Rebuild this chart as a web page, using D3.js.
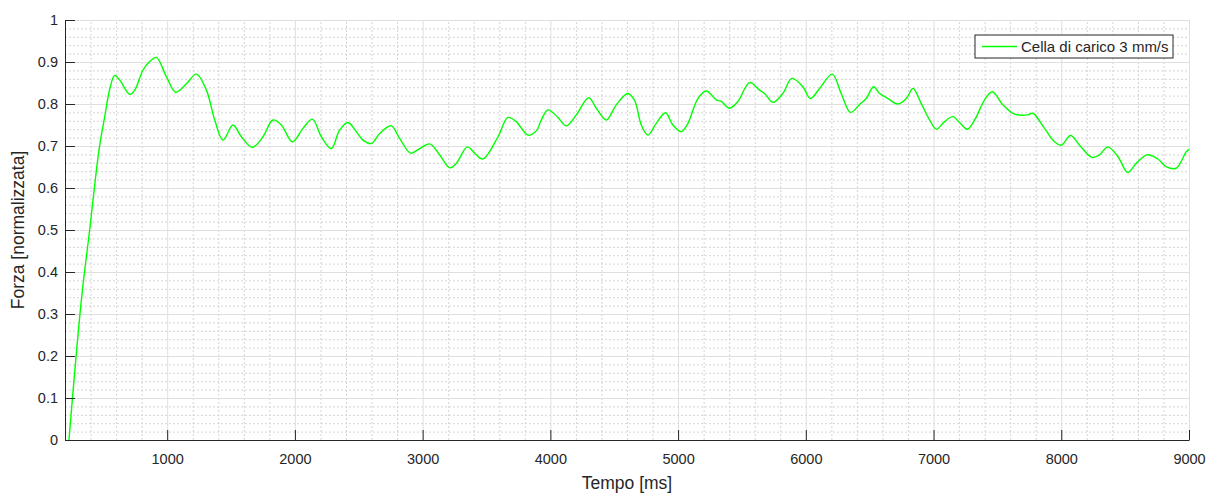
<!DOCTYPE html>
<html>
<head>
<meta charset="utf-8">
<script src="https://cdn.jsdelivr.net/npm/d3@7"></script>
<style>
	body { margin: 0; background: #fff; }
	text { font-family: "Liberation Sans", Arial, sans-serif; fill: #262626; }
</style>
</head>
<body>
<svg id="chart"></svg>
<script>
var width = 1207;
var height = 493;
var margin = { top: 20, right: 18, bottom: 53, left: 65 };

// values ----------------------------------------------------------------
var tempo = [231, 328, 393, 466, 511, 550, 589, 628, 707, 746, 811, 863, 915, 994, 1067, 1150,
	1229, 1307, 1372, 1437, 1515, 1581, 1667, 1750, 1828, 1894, 1980, 2063, 2137, 2207, 2285,
	2350, 2415, 2481, 2533, 2598, 2664, 2755, 2820, 2906, 2977, 3055, 3133, 3211, 3264, 3350,
	3407, 3472, 3590, 3668, 3733, 3824, 3890, 3929, 3981, 4059, 4125, 4203, 4300, 4360, 4438,
	4516, 4607, 4660, 4712, 4764, 4829, 4902, 4959, 5025, 5077, 5155, 5221, 5299, 5338, 5403,
	5468, 5560, 5638, 5677, 5742, 5820, 5891, 5977, 6035, 6108, 6207, 6277, 6350, 6421, 6473,
	6531, 6578, 6643, 6721, 6787, 6839, 6904, 6969, 7022, 7087, 7151, 7204, 7264, 7322, 7400,
	7460, 7543, 7634, 7738, 7777, 7869, 7947, 8000, 8073, 8143, 8240, 8300, 8365, 8443, 8521,
	8587, 8673, 8756, 8821, 8899, 8978, 9000];
var forza = [0, 0.333, 0.5, 0.69, 0.77, 0.835, 0.868, 0.857, 0.823, 0.833, 0.881, 0.901, 0.911, 0.865, 0.828, 0.848,
	0.871, 0.833, 0.762, 0.714, 0.75, 0.722, 0.697, 0.722, 0.762, 0.75, 0.71, 0.742, 0.764, 0.722, 0.694,
	0.738, 0.756, 0.734, 0.714, 0.706, 0.73, 0.748, 0.718, 0.683, 0.694, 0.705, 0.679, 0.648, 0.659, 0.698,
	0.683, 0.669, 0.722, 0.768, 0.758, 0.726, 0.736, 0.762, 0.786, 0.768, 0.748, 0.774, 0.815, 0.79, 0.762,
	0.798, 0.825, 0.808, 0.75, 0.726, 0.754, 0.779, 0.75, 0.734, 0.754, 0.813, 0.831, 0.81, 0.806, 0.79,
	0.806, 0.851, 0.833, 0.825, 0.804, 0.825, 0.861, 0.841, 0.813, 0.837, 0.871, 0.825, 0.78, 0.799, 0.813,
	0.841, 0.825, 0.813, 0.8, 0.813, 0.837, 0.801, 0.762, 0.74, 0.758, 0.77, 0.756, 0.74, 0.762, 0.81,
	0.829, 0.798, 0.776, 0.774, 0.778, 0.742, 0.71, 0.702, 0.725, 0.702, 0.673, 0.679, 0.698, 0.675, 0.637,
	0.659, 0.679, 0.669, 0.651, 0.647, 0.686, 0.692];

var xTicks = [1000, 2000, 3000, 4000, 5000, 6000, 7000, 8000, 9000];
var yTicks = [0, 0.1, 0.2, 0.3, 0.4, 0.5, 0.6, 0.7, 0.8, 0.9, 1];
var legendLabel = "Cella di carico 3 mm/s";

var data = tempo.map(function(t, i) { return [t, forza[i]]; });

// Setup ===================================================================
var svg = d3.select("#chart")
	.attr("width", width)
	.attr("height", height);

var plotW = width - margin.left - margin.right;
var plotH = height - margin.top - margin.bottom;

var g = svg.append("g")
	.attr("transform", "translate(" + margin.left + "," + margin.top + ")");

var xScale = d3.scaleLinear()
	.domain([200, 9000])
	.range([0, plotW]);

var yScale = d3.scaleLinear()
	.domain([0, 1])
	.range([plotH, 0]);

// Grid ====================================================================
var minorX = d3.range(200, 9001, 200).filter(function(d) { return d % 1000 !== 0; });
var minorY = d3.range(0, 51, 1).map(function(d) { return d / 50; })
	.filter(function(d, i) { return i % 5 !== 0; });

g.append("g")
	.call(d3.axisBottom(xScale).tickValues(minorX).tickSize(-plotH).tickFormat(""))
	.attr("transform", "translate(0," + plotH + ")")
	.call(function(a) {
		a.select(".domain").remove();
		a.selectAll("line").attr("stroke", "#d4d4d4").attr("stroke-dasharray", "2,2");
	});

g.append("g")
	.call(d3.axisLeft(yScale).tickValues(minorY).tickSize(-plotW).tickFormat(""))
	.call(function(a) {
		a.select(".domain").remove();
		a.selectAll("line").attr("stroke", "#d4d4d4").attr("stroke-dasharray", "2,2");
	});

g.append("g")
	.attr("transform", "translate(0," + plotH + ")")
	.call(d3.axisBottom(xScale).tickValues(xTicks).tickSize(-plotH).tickFormat(""))
	.call(function(a) {
		a.select(".domain").remove();
		a.selectAll("line").attr("stroke", "#dfdfdf");
	});

g.append("g")
	.call(d3.axisLeft(yScale).tickValues(yTicks).tickSize(-plotW).tickFormat(""))
	.call(function(a) {
		a.select(".domain").remove();
		a.selectAll("line").attr("stroke", "#dfdfdf");
	});

// Line ====================================================================
var line = d3.line()
	.x(function(d) { return xScale(d[0]); })
	.y(function(d) { return yScale(d[1]); })
	.curve(d3.curveCatmullRom.alpha(0.5));

g.append("path")
	.datum(data)
	.attr("fill", "none")
	.attr("stroke", "#00ff00")
	.attr("stroke-width", 1.4)
	.attr("d", line);

// Axes ====================================================================
var xAxis = d3.axisBottom(xScale)
	.tickValues(xTicks)
	.tickSizeInner(-10)
	.tickSizeOuter(0)
	.tickPadding(14)
	.tickFormat(d3.format("d"));

var yAxis = d3.axisLeft(yScale)
	.tickValues(yTicks)
	.tickSizeInner(-10)
	.tickSizeOuter(0)
	.tickPadding(7)
	.tickFormat(function(d) { return d === 0 || d === 1 ? d : d3.format(".1f")(d); });

g.append("g")
	.attr("class", "x-axis")
	.attr("transform", "translate(0," + plotH + ")")
	.call(xAxis)
	.call(function(a) {
		a.select(".domain").attr("stroke", "#262626");
		a.selectAll("line").attr("stroke", "#262626");
		a.selectAll("text").attr("font-size", 14.5).attr("font-family", "Liberation Sans, Arial, sans-serif").attr("fill", "#262626");
	});

g.append("g")
	.attr("class", "y-axis")
	.call(yAxis)
	.call(function(a) {
		a.select(".domain").attr("stroke", "#262626");
		a.selectAll("line").attr("stroke", "#262626");
		a.selectAll("text").attr("font-size", 14.5).attr("font-family", "Liberation Sans, Arial, sans-serif").attr("fill", "#262626");
	});

// Labels ==================================================================
svg.append("text")
	.attr("x", margin.left + plotW / 2)
	.attr("y", 489)
	.attr("text-anchor", "middle")
	.attr("font-size", 17.5)
	.text("Tempo [ms]");

svg.append("text")
	.attr("transform", "translate(24," + (margin.top + plotH / 2) + ") rotate(-90)")
	.attr("text-anchor", "middle")
	.attr("font-size", 17.5)
	.text("Forza [normalizzata]");

// Legend ==================================================================
var legend = svg.append("g").attr("transform", "translate(975,35)");

legend.append("rect")
	.attr("width", 198)
	.attr("height", 23)
	.attr("fill", "#fff")
	.attr("stroke", "#262626")
	.attr("stroke-width", 1);

legend.append("line")
	.attr("x1", 7).attr("x2", 42)
	.attr("y1", 11.5).attr("y2", 11.5)
	.attr("stroke", "#00ff00")
	.attr("stroke-width", 1.4);

legend.append("text")
	.attr("x", 46)
	.attr("y", 17)
	.attr("font-size", 15)
	.text(legendLabel);
</script>
</body>
</html>
